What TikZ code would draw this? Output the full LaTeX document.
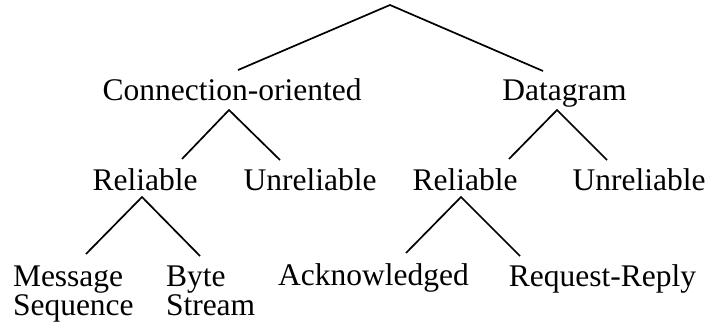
\documentclass[tikz,border=0pt]{standalone}
\usepackage{fontspec}
\setmainfont{Liberation Serif}
\begin{document}
\begin{tikzpicture}[x=1pt,y=-1pt,
  lbl/.style={inner sep=0pt,outer sep=0pt,anchor=base,font=\fontsize{31.5}{27.5}\selectfont},
  lblw/.style={lbl,anchor=base west},
  branch/.style={line width=1.7pt,line cap=butt}]
\useasboundingbox (0,0) rectangle (706,335);
% labels
\node[lbl] (co) at (232,100) {Connection-oriented};
\node[lbl] (dg) at (564.5,100) {Datagram};
\node[lbl] (rel1) at (145,190) {Reliable};
\node[lbl] (unr1) at (310,190) {Unreliable};
\node[lbl] (rel2) at (465,190) {Reliable};
\node[lbl] (unr2) at (639,190) {Unreliable};
\node[lblw] (msg) at (13,286.5) {\begin{tabular}[t]{@{}l@{}}Message\\Sequence\end{tabular}};
\node[lblw] (byte) at (166,286.5) {\begin{tabular}[t]{@{}l@{}}Byte\\Stream\end{tabular}};
\node[lbl] (ack) at (373.5,285.5) {Acknowledged};
\node[lbl] (rr) at (602.5,286) {Request-Reply};
% apex and end points of the branches
\coordinate (root) at (390,5);
\coordinate (co-in) at (238,70);
\coordinate (dg-in) at (543,71);
\coordinate (co-out) at (229,110);
\coordinate (rel1-in) at (182,159);
\coordinate (unr1-in) at (280,160);
\coordinate (dg-out) at (557,110);
\coordinate (rel2-in) at (509,159);
\coordinate (unr2-in) at (607,160);
\coordinate (rel1-out) at (142,197);
\coordinate (msg-in) at (86,254);
\coordinate (byte-in) at (200,256);
\coordinate (rel2-out) at (461,197);
\coordinate (ack-in) at (406,253);
\coordinate (rr-in) at (520,256);
% connectors
\draw[branch] (co-in) -- (root) -- (dg-in);
\draw[branch] (rel1-in) -- (co-out) -- (unr1-in);
\draw[branch] (rel2-in) -- (dg-out) -- (unr2-in);
\draw[branch] (msg-in) -- (rel1-out) -- (byte-in);
\draw[branch] (ack-in) -- (rel2-out) -- (rr-in);
\end{tikzpicture}
\end{document}
